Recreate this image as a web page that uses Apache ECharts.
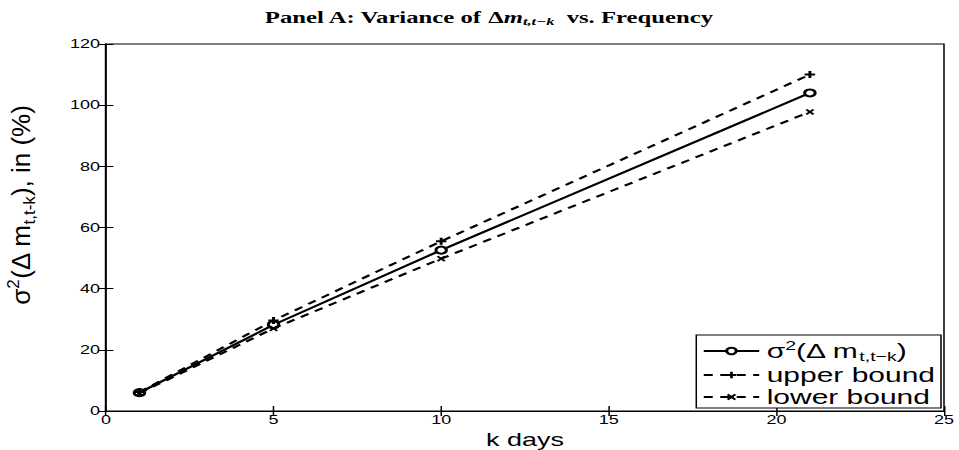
<!DOCTYPE html>
<html>
<head>
<meta charset="utf-8">
<script src="https://cdn.jsdelivr.net/npm/echarts@6/dist/echarts.min.js"></script>
<style>
  html, body { margin: 0; padding: 0; background: #fff; overflow: hidden; }
  /* the original figure is stretched sideways, so draw narrow and scale x */
  #chart { width: 640px; height: 450px; transform: scaleX(1.4984); transform-origin: 0 0; }
</style>
</head>
<body>
<div id="chart"></div>
<script>
// k values (days) and variance estimates, in %
const kDays = [1, 5, 10, 21];
const variance = [6.0, 28.2, 52.6, 104.0];
const upperBound = [6.2, 29.6, 55.5, 110.0];
const lowerBound = [5.8, 27.0, 49.8, 97.8];

const xTicks = [0, 5, 10, 15, 20, 25];
const yTicks = [0, 20, 40, 60, 80, 100, 120];

const plusPath = 'path://M3.6,0 L6.4,0 L6.4,3.6 L10,3.6 L10,6.4 L6.4,6.4 L6.4,10 L3.6,10 L3.6,6.4 L0,6.4 L0,3.6 L3.6,3.6 Z';
const crossPath = 'path://M1.9,0 L5,3.1 L8.1,0 L10,1.9 L6.9,5 L10,8.1 L8.1,10 L5,6.9 L1.9,10 L0,8.1 L3.1,5 L0,1.9 Z';

const sansFont = '"Liberation Sans", Arial, Helvetica, sans-serif';
const serifFont = '"Liberation Serif", "DejaVu Serif", serif';

const pairs = (ys) => kDays.map((k, i) => [k, ys[i]]);

const chart = echarts.init(document.getElementById('chart'), null, { renderer: 'svg' });

const legendRich = {
  a: { fontSize: 20, fontFamily: sansFont, color: '#000' },
  sup: { fontSize: 13, fontFamily: sansFont, color: '#000', verticalAlign: 'top', padding: [0, 0, 10, 0] },
  sub: { fontSize: 13, fontFamily: sansFont, color: '#000', verticalAlign: 'bottom', padding: [11, 0, 0, 0] }
};

const option = {
  animation: false,
  title: {
    text: '{b|Panel A: Variance of }{d|Δ}{m|m}{s|t,t−k}{b| vs. Frequency}',
    left: 321,
    textAlign: 'center',
    top: 3,
    textStyle: {
      rich: {
        b: { fontFamily: serifFont, fontWeight: 'bold', fontSize: 16.5, color: '#000' },
        d: { fontFamily: serifFont, fontSize: 16.5, color: '#000' },
        m: { fontFamily: serifFont, fontStyle: 'italic', fontSize: 16.5, color: '#000' },
        s: { fontFamily: serifFont, fontStyle: 'italic', fontSize: 11, color: '#000', verticalAlign: 'bottom', padding: [8, 4, 0, 0] }
      }
    }
  },
  // y axis title, squeezed back across so the sideways stretch does not fatten it
  graphic: [
    {
      type: 'text',
      x: 14,
      y: 205,
      rotation: Math.PI / 2,
      scaleY: 0.68,
      style: {
        text: '{a|σ}{sup|2}{a|(Δ m}{sub|t,t-k}{a|), in (%)}',
        align: 'center',
        verticalAlign: 'middle',
        rich: {
          a: { fontSize: 26, fontFamily: sansFont, fill: '#000' },
          sup: { fontSize: 17, fontFamily: sansFont, fill: '#000', verticalAlign: 'top', padding: [0, 0, 14, 0] },
          sub: { fontSize: 17, fontFamily: sansFont, fill: '#000', verticalAlign: 'bottom', padding: [16, 0, 0, 0] }
        }
      }
    }
  ],
  grid: {
    left: 70.7, right: 10, top: 44, bottom: 39,
    show: true, borderColor: '#000', borderWidth: 1,
    outerBoundsMode: 'none', containLabel: false
  },
  legend: {
    right: 12,
    bottom: 42,
    orient: 'vertical',
    backgroundColor: '#fff',
    borderColor: '#000',
    borderWidth: 1,
    padding: [4, 4, 1, 4],
    itemGap: 2,
    itemWidth: 37,
    itemHeight: 8,
    data: ['var', 'upper', 'lower'],
    formatter: (name) => {
      if (name === 'var') return '{a|σ}{sup|2}{a|(Δ m}{sub|t,t−k}{a|)}';
      if (name === 'upper') return '{a|upper bound}';
      return '{a|lower bound}';
    },
    textStyle: { rich: legendRich }
  },
  xAxis: [
    {
      type: 'value', min: 0, max: 25, interval: 5,
      name: 'k days', nameLocation: 'middle', nameGap: 17,
      nameTextStyle: { fontFamily: sansFont, fontSize: 18, color: '#000' },
      axisLine: { lineStyle: { color: '#000', width: 1 } },
      axisTick: { inside: true, length: 5, lineStyle: { color: '#000' } },
      axisLabel: { fontFamily: sansFont, fontSize: 12, color: '#000', margin: 3 },
      splitLine: { show: false }
    },
    {
      type: 'value', min: 0, max: 25, interval: 5, position: 'top',
      axisLine: { lineStyle: { color: '#000' } },
      axisTick: { inside: true, length: 5, lineStyle: { color: '#000' } },
      axisLabel: { show: false }, splitLine: { show: false }
    }
  ],
  yAxis: [
    {
      type: 'value', min: 0, max: 120, interval: 20,
      axisLine: { show: true, lineStyle: { color: '#000', width: 1 } },
      axisTick: { show: true, inside: true, length: 5, lineStyle: { color: '#000' } },
      axisLabel: { fontFamily: sansFont, fontSize: 12, color: '#000', margin: 4 },
      splitLine: { show: false }
    },
    {
      type: 'value', min: 0, max: 120, interval: 20, position: 'right',
      axisLine: { show: true, lineStyle: { color: '#000' } },
      axisTick: { show: true, inside: true, length: 5, lineStyle: { color: '#000' } },
      axisLabel: { show: false }, splitLine: { show: false }
    }
  ],
  series: [
    {
      name: 'var', type: 'line', data: pairs(variance),
      symbol: 'emptyCircle', symbolSize: 7,
      lineStyle: { color: '#000', width: 2, type: 'solid' },
      itemStyle: { color: '#000', borderColor: '#000', borderWidth: 2 },
      z: 3
    },
    {
      name: 'upper', type: 'line', data: pairs(upperBound),
      symbol: plusPath, symbolSize: 7,
      lineStyle: { color: '#000', width: 2, type: [6, 5] },
      itemStyle: { color: '#000' }
    },
    {
      name: 'lower', type: 'line', data: pairs(lowerBound),
      symbol: crossPath, symbolSize: 6,
      lineStyle: { color: '#000', width: 2, type: [6, 5] },
      itemStyle: { color: '#000' }
    }
  ]
};

chart.setOption(option);
</script>
</body>
</html>
